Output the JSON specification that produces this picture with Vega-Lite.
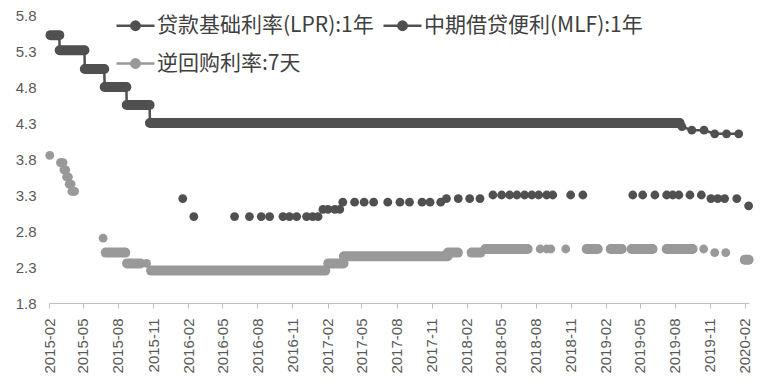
{
  "$schema": "https://vega.github.io/schema/vega-lite/v6.json",
  "width": 700,
  "height": 288,
  "autosize": "none",
  "padding": {"left": 49, "top": 15, "right": 11, "bottom": 88},
  "background": "white",
  "config": {"font": "Liberation Sans", "view": {"stroke": null}},
  "datasets": {
    "lpr": [
      {"date": "2015-02-05", "rate": 5.52, "series": "贷款基础利率(LPR):1年", "seg": "s1"},
      {"date": "2015-02-28", "rate": 5.52, "series": "贷款基础利率(LPR):1年", "seg": "s1"},
      {"date": "2015-03-01", "rate": 5.31, "series": "贷款基础利率(LPR):1年", "seg": "s2"},
      {"date": "2015-05-05", "rate": 5.31, "series": "贷款基础利率(LPR):1年", "seg": "s2"},
      {"date": "2015-05-06", "rate": 5.05, "series": "贷款基础利率(LPR):1年", "seg": "s3"},
      {"date": "2015-06-26", "rate": 5.05, "series": "贷款基础利率(LPR):1年", "seg": "s3"},
      {"date": "2015-06-27", "rate": 4.8, "series": "贷款基础利率(LPR):1年", "seg": "s4"},
      {"date": "2015-08-23", "rate": 4.8, "series": "贷款基础利率(LPR):1年", "seg": "s4"},
      {"date": "2015-08-24", "rate": 4.55, "series": "贷款基础利率(LPR):1年", "seg": "s5"},
      {"date": "2015-10-23", "rate": 4.55, "series": "贷款基础利率(LPR):1年", "seg": "s5"},
      {"date": "2015-10-24", "rate": 4.3, "series": "贷款基础利率(LPR):1年", "seg": "s6"},
      {"date": "2019-08-14", "rate": 4.3, "series": "贷款基础利率(LPR):1年", "seg": "s6"},
      {"date": "2019-08-20", "rate": 4.25, "series": "贷款基础利率(LPR):1年"},
      {"date": "2019-09-15", "rate": 4.2, "series": "贷款基础利率(LPR):1年"},
      {"date": "2019-10-17", "rate": 4.2, "series": "贷款基础利率(LPR):1年"},
      {"date": "2019-11-14", "rate": 4.15, "series": "贷款基础利率(LPR):1年"},
      {"date": "2019-12-15", "rate": 4.15, "series": "贷款基础利率(LPR):1年"},
      {"date": "2020-01-16", "rate": 4.15, "series": "贷款基础利率(LPR):1年"}
    ],
    "rates": [
      {"date": "2016-01-18", "rate": 3.25, "series": "中期借贷便利(MLF):1年"},
      {"date": "2016-02-16", "rate": 3.0, "series": "中期借贷便利(MLF):1年"},
      {"date": "2016-06-02", "rate": 3.0, "series": "中期借贷便利(MLF):1年"},
      {"date": "2016-07-11", "rate": 3.0, "series": "中期借贷便利(MLF):1年"},
      {"date": "2016-08-11", "rate": 3.0, "series": "中期借贷便利(MLF):1年"},
      {"date": "2016-09-02", "rate": 3.0, "series": "中期借贷便利(MLF):1年"},
      {"date": "2016-10-07", "rate": 3.0, "series": "中期借贷便利(MLF):1年"},
      {"date": "2016-10-24", "rate": 3.0, "series": "中期借贷便利(MLF):1年"},
      {"date": "2016-11-12", "rate": 3.0, "series": "中期借贷便利(MLF):1年"},
      {"date": "2016-12-08", "rate": 3.0, "series": "中期借贷便利(MLF):1年"},
      {"date": "2016-12-24", "rate": 3.0, "series": "中期借贷便利(MLF):1年"},
      {"date": "2017-01-07", "rate": 3.0, "series": "中期借贷便利(MLF):1年"},
      {"date": "2017-01-20", "rate": 3.1, "series": "中期借贷便利(MLF):1年"},
      {"date": "2017-02-02", "rate": 3.1, "series": "中期借贷便利(MLF):1年"},
      {"date": "2017-02-20", "rate": 3.1, "series": "中期借贷便利(MLF):1年"},
      {"date": "2017-03-05", "rate": 3.1, "series": "中期借贷便利(MLF):1年"},
      {"date": "2017-03-13", "rate": 3.2, "series": "中期借贷便利(MLF):1年"},
      {"date": "2017-04-13", "rate": 3.2, "series": "中期借贷便利(MLF):1年"},
      {"date": "2017-05-08", "rate": 3.2, "series": "中期借贷便利(MLF):1年"},
      {"date": "2017-06-02", "rate": 3.2, "series": "中期借贷便利(MLF):1年"},
      {"date": "2017-07-09", "rate": 3.2, "series": "中期借贷便利(MLF):1年"},
      {"date": "2017-08-10", "rate": 3.2, "series": "中期借贷便利(MLF):1年"},
      {"date": "2017-09-04", "rate": 3.2, "series": "中期借贷便利(MLF):1年"},
      {"date": "2017-10-07", "rate": 3.2, "series": "中期借贷便利(MLF):1年"},
      {"date": "2017-10-28", "rate": 3.2, "series": "中期借贷便利(MLF):1年"},
      {"date": "2017-11-25", "rate": 3.2, "series": "中期借贷便利(MLF):1年"},
      {"date": "2017-12-10", "rate": 3.25, "series": "中期借贷便利(MLF):1年"},
      {"date": "2018-01-10", "rate": 3.25, "series": "中期借贷便利(MLF):1年"},
      {"date": "2018-02-09", "rate": 3.25, "series": "中期借贷便利(MLF):1年"},
      {"date": "2018-03-08", "rate": 3.25, "series": "中期借贷便利(MLF):1年"},
      {"date": "2018-04-11", "rate": 3.3, "series": "中期借贷便利(MLF):1年"},
      {"date": "2018-05-04", "rate": 3.3, "series": "中期借贷便利(MLF):1年"},
      {"date": "2018-05-25", "rate": 3.3, "series": "中期借贷便利(MLF):1年"},
      {"date": "2018-06-13", "rate": 3.3, "series": "中期借贷便利(MLF):1年"},
      {"date": "2018-07-03", "rate": 3.3, "series": "中期借贷便利(MLF):1年"},
      {"date": "2018-07-22", "rate": 3.3, "series": "中期借贷便利(MLF):1年"},
      {"date": "2018-08-09", "rate": 3.3, "series": "中期借贷便利(MLF):1年"},
      {"date": "2018-08-30", "rate": 3.3, "series": "中期借贷便利(MLF):1年"},
      {"date": "2018-09-15", "rate": 3.3, "series": "中期借贷便利(MLF):1年"},
      {"date": "2018-11-01", "rate": 3.3, "series": "中期借贷便利(MLF):1年"},
      {"date": "2018-12-03", "rate": 3.3, "series": "中期借贷便利(MLF):1年"},
      {"date": "2019-04-13", "rate": 3.3, "series": "中期借贷便利(MLF):1年"},
      {"date": "2019-05-09", "rate": 3.3, "series": "中期借贷便利(MLF):1年"},
      {"date": "2019-06-10", "rate": 3.3, "series": "中期借贷便利(MLF):1年"},
      {"date": "2019-07-11", "rate": 3.3, "series": "中期借贷便利(MLF):1年"},
      {"date": "2019-07-27", "rate": 3.3, "series": "中期借贷便利(MLF):1年"},
      {"date": "2019-08-12", "rate": 3.3, "series": "中期借贷便利(MLF):1年"},
      {"date": "2019-09-10", "rate": 3.3, "series": "中期借贷便利(MLF):1年"},
      {"date": "2019-10-10", "rate": 3.3, "series": "中期借贷便利(MLF):1年"},
      {"date": "2019-11-04", "rate": 3.25, "series": "中期借贷便利(MLF):1年"},
      {"date": "2019-11-22", "rate": 3.25, "series": "中期借贷便利(MLF):1年"},
      {"date": "2019-12-10", "rate": 3.25, "series": "中期借贷便利(MLF):1年"},
      {"date": "2020-01-11", "rate": 3.25, "series": "中期借贷便利(MLF):1年"},
      {"date": "2020-02-11", "rate": 3.15, "series": "中期借贷便利(MLF):1年"},
      {"date": "2015-02-03", "rate": 3.85, "series": "逆回购利率:7天"},
      {"date": "2015-03-03", "rate": 3.75, "series": "逆回购利率:7天"},
      {"date": "2015-03-05", "rate": 3.75, "series": "逆回购利率:7天"},
      {"date": "2015-03-10", "rate": 3.75, "series": "逆回购利率:7天"},
      {"date": "2015-03-12", "rate": 3.65, "series": "逆回购利率:7天"},
      {"date": "2015-03-17", "rate": 3.65, "series": "逆回购利率:7天"},
      {"date": "2015-03-19", "rate": 3.55, "series": "逆回购利率:7天"},
      {"date": "2015-03-24", "rate": 3.55, "series": "逆回购利率:7天"},
      {"date": "2015-03-26", "rate": 3.45, "series": "逆回购利率:7天"},
      {"date": "2015-03-31", "rate": 3.45, "series": "逆回购利率:7天"},
      {"date": "2015-04-02", "rate": 3.35, "series": "逆回购利率:7天"},
      {"date": "2015-04-07", "rate": 3.35, "series": "逆回购利率:7天"},
      {"date": "2015-04-09", "rate": 3.35, "series": "逆回购利率:7天"},
      {"date": "2015-06-23", "rate": 2.7, "series": "逆回购利率:7天"},
      {"date": "2015-06-30", "rate": 2.5, "series": "逆回购利率:7天", "run": "r1"},
      {"date": "2015-08-20", "rate": 2.5, "series": "逆回购利率:7天", "run": "r1"},
      {"date": "2015-08-25", "rate": 2.35, "series": "逆回购利率:7天", "run": "r2"},
      {"date": "2015-09-29", "rate": 2.35, "series": "逆回购利率:7天", "run": "r2"},
      {"date": "2015-10-15", "rate": 2.35, "series": "逆回购利率:7天"},
      {"date": "2015-10-27", "rate": 2.25, "series": "逆回购利率:7天", "run": "r3"},
      {"date": "2017-01-26", "rate": 2.25, "series": "逆回购利率:7天", "run": "r3"},
      {"date": "2017-02-03", "rate": 2.35, "series": "逆回购利率:7天", "run": "r4"},
      {"date": "2017-03-15", "rate": 2.35, "series": "逆回购利率:7天", "run": "r4"},
      {"date": "2017-03-16", "rate": 2.45, "series": "逆回购利率:7天", "run": "r5"},
      {"date": "2017-12-13", "rate": 2.45, "series": "逆回购利率:7天", "run": "r5"},
      {"date": "2017-12-14", "rate": 2.5, "series": "逆回购利率:7天", "run": "r6"},
      {"date": "2018-01-09", "rate": 2.5, "series": "逆回购利率:7天", "run": "r6"},
      {"date": "2018-02-14", "rate": 2.5, "series": "逆回购利率:7天", "run": "r7"},
      {"date": "2018-03-09", "rate": 2.5, "series": "逆回购利率:7天", "run": "r7"},
      {"date": "2018-03-22", "rate": 2.55, "series": "逆回购利率:7天", "run": "r8"},
      {"date": "2018-07-11", "rate": 2.55, "series": "逆回购利率:7天", "run": "r8"},
      {"date": "2018-08-13", "rate": 2.55, "series": "逆回购利率:7天"},
      {"date": "2018-08-30", "rate": 2.55, "series": "逆回购利率:7天"},
      {"date": "2018-09-10", "rate": 2.55, "series": "逆回购利率:7天"},
      {"date": "2018-10-19", "rate": 2.55, "series": "逆回购利率:7天"},
      {"date": "2018-12-13", "rate": 2.55, "series": "逆回购利率:7天", "run": "r9"},
      {"date": "2019-01-11", "rate": 2.55, "series": "逆回购利率:7天", "run": "r9"},
      {"date": "2019-02-14", "rate": 2.55, "series": "逆回购利率:7天", "run": "r10"},
      {"date": "2019-03-15", "rate": 2.55, "series": "逆回购利率:7天", "run": "r10"},
      {"date": "2019-04-10", "rate": 2.55, "series": "逆回购利率:7天", "run": "r11"},
      {"date": "2019-06-04", "rate": 2.55, "series": "逆回购利率:7天", "run": "r11"},
      {"date": "2019-07-11", "rate": 2.55, "series": "逆回购利率:7天", "run": "r12"},
      {"date": "2019-09-17", "rate": 2.55, "series": "逆回购利率:7天", "run": "r12"},
      {"date": "2019-10-16", "rate": 2.55, "series": "逆回购利率:7天"},
      {"date": "2019-11-14", "rate": 2.5, "series": "逆回购利率:7天"},
      {"date": "2019-12-13", "rate": 2.5, "series": "逆回购利率:7天"},
      {"date": "2020-02-01", "rate": 2.4, "series": "逆回购利率:7天", "run": "r13"},
      {"date": "2020-02-11", "rate": 2.4, "series": "逆回购利率:7天", "run": "r13"}
    ]
  },
  "encoding": {
    "x": {
      "field": "date",
      "type": "temporal",
      "scale": {
        "type": "utc",
        "domain": [{"year": 2015, "month": 2, "date": 1, "utc": true}, {"year": 2020, "month": 2, "date": 12, "utc": true}]
      },
      "axis": {
        "title": null,
        "grid": false,
        "format": "%Y-%m",
        "labelAngle": -90,
        "labelFontSize": 15,
        "labelColor": "#595959",
        "labelPadding": 10,
        "tickSize": 5,
        "tickColor": "#c0c0c0",
        "domainColor": "#c0c0c0",
        "labelOverlap": false,
        "values": [
          {"year": 2015, "month": 2, "date": 1, "utc": true},
          {"year": 2015, "month": 5, "date": 1, "utc": true},
          {"year": 2015, "month": 8, "date": 1, "utc": true},
          {"year": 2015, "month": 11, "date": 1, "utc": true},
          {"year": 2016, "month": 2, "date": 1, "utc": true},
          {"year": 2016, "month": 5, "date": 1, "utc": true},
          {"year": 2016, "month": 8, "date": 1, "utc": true},
          {"year": 2016, "month": 11, "date": 1, "utc": true},
          {"year": 2017, "month": 2, "date": 1, "utc": true},
          {"year": 2017, "month": 5, "date": 1, "utc": true},
          {"year": 2017, "month": 8, "date": 1, "utc": true},
          {"year": 2017, "month": 11, "date": 1, "utc": true},
          {"year": 2018, "month": 2, "date": 1, "utc": true},
          {"year": 2018, "month": 5, "date": 1, "utc": true},
          {"year": 2018, "month": 8, "date": 1, "utc": true},
          {"year": 2018, "month": 11, "date": 1, "utc": true},
          {"year": 2019, "month": 2, "date": 1, "utc": true},
          {"year": 2019, "month": 5, "date": 1, "utc": true},
          {"year": 2019, "month": 8, "date": 1, "utc": true},
          {"year": 2019, "month": 11, "date": 1, "utc": true},
          {"year": 2020, "month": 2, "date": 1, "utc": true}
        ]
      }
    },
    "y": {
      "field": "rate",
      "type": "quantitative",
      "scale": {"domain": [1.8, 5.8], "nice": false, "zero": false},
      "axis": {
        "title": null,
        "values": [1.8, 2.3, 2.8, 3.3, 3.8, 4.3, 4.8, 5.3, 5.8],
        "format": ".1f",
        "domain": false,
        "ticks": false,
        "grid": false,
        "labelFontSize": 15,
        "labelColor": "#595959",
        "labelPadding": 13
      }
    },
    "color": {
      "field": "series",
      "type": "nominal",
      "scale": {
        "domain": ["贷款基础利率(LPR):1年", "中期借贷便利(MLF):1年", "逆回购利率:7天"],
        "range": ["#505050", "#505050", "#999999"]
      },
      "legend": {
        "title": null,
        "orient": "none",
        "direction": "horizontal",
        "legendX": 66,
        "legendY": -10,
        "padding": 0,
        "columns": 2,
        "columnPadding": 4,
        "rowPadding": 7,
        "symbolType": "M-1,0L1,0M-0.22,0A0.22,0.22,0,1,1,0.22,0A0.22,0.22,0,1,1,-0.22,0Z",
        "symbolSize": 1444,
        "symbolStrokeWidth": 2.5,
        "labelFont": "Noto Sans CJK SC",
        "labelFontSize": 21,
        "labelColor": "#404040",
        "labelOffset": 1,
        "labelLimit": 0,
        "encode": {
          "symbols": {
            "update": {
              "fill": {"scale": "color", "field": "value"},
              "stroke": {"scale": "color", "field": "value"},
              "opacity": {"value": 1},
              "fillOpacity": {"value": 1},
              "strokeOpacity": {"value": 1}
            }
          }
        }
      }
    }
  },
  "layer": [
    {
      "data": {"name": "lpr"},
      "mark": {"type": "line", "strokeWidth": 2.5, "clip": false},
      "encoding": {"order": {"field": "date", "type": "temporal"}}
    },
    {
      "data": {"name": "lpr"},
      "transform": [{"filter": "datum.seg != null"}],
      "mark": {"type": "line", "strokeWidth": 10, "strokeCap": "round", "clip": false},
      "encoding": {"detail": {"field": "seg"}}
    },
    {
      "data": {"name": "rates"},
      "transform": [{"filter": "datum.run != null"}],
      "mark": {"type": "line", "strokeWidth": 10, "strokeCap": "round", "clip": false},
      "encoding": {"detail": {"field": "run"}}
    },
    {
      "data": {"name": "lpr"},
      "mark": {"type": "point", "filled": true, "size": 78, "opacity": 1, "clip": false},
      "encoding": {}
    },
    {
      "data": {"name": "rates"},
      "mark": {"type": "point", "filled": true, "size": 78, "opacity": 1, "clip": false},
      "encoding": {}
    }
  ]
}
